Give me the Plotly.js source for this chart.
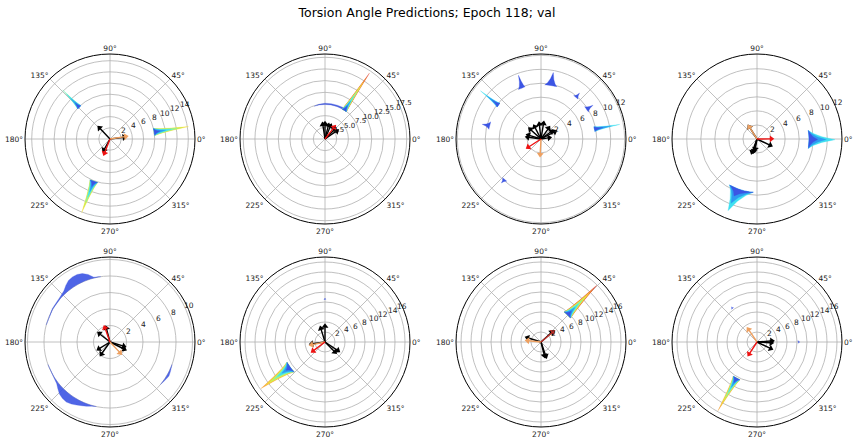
<!DOCTYPE html>
<html><head><meta charset="utf-8">
<script src="https://cdn.plot.ly/plotly-3.0.1.min.js"></script>
<style>html,body{margin:0;padding:0;background:#fff}#chart{width:854px;height:438px}</style>
</head><body><div id="chart"></div>
<script>
// ---------------- data ----------------
const titleText = 'Torsion Angle Predictions; Epoch 118; val';
const angleTicks = [0, 45, 90, 135, 180, 225, 270, 315];
const angleTickLabels = ['0°', '45°', '90°', '135°', '180°', '225°', '270°', '315°'];

const rMax = [15.2, 18.2, 12.2, 12.1, 10.3, 17, 17, 17];
const rTicks1 = [2, 4, 6, 8, 10, 12, 14];
const rTicks2 = [2.5, 5.0, 7.5, 10.0, 12.5, 15.0, 17.5];
const rTickLabels2 = ['2.5', '5.0', '7.5', '10.0', '12.5', '15.0', '17.5'];
const rTicks3 = [2, 4, 6, 8, 10, 12];
const rTicks4 = [2, 4, 6, 8, 10, 12];
const rTicks5 = [2, 4, 6, 8, 10];
const rTicks6 = [2, 4, 6, 8, 10, 12, 14, 16];
const rTicks7 = [2, 4, 6, 8, 10, 12, 14, 16];
const rTicks8 = [2, 4, 6, 8, 10, 12, 14, 16];

// peaks: [angle, base r, tip r, spread toward smaller angle, spread toward larger angle, colour level]
const peaks1 = [[9, 8.0, 14.2, 4.5, 4.5, 5], [134, 7.9, 12.2, 3, 3, 3], [249, 8.1, 14.1, 5, 5, 5]];
const peaks2 = [[56, 7.4, 17.0, 4, 4, 7]];
const peaks3 = [[10.5, 7.8, 11.5, 2.5, 2.5, 2], [141.5, 7.8, 11.1, 2.5, 2.5, 2], [79.5, 7.8, 9.7, 6.5, 6.5, 0],
                [109.5, 7.8, 9.7, 2.5, 5, 0], [50, 7.8, 8.6, 3, 3, 0], [33, 7.8, 8.9, 3.5, 3.5, 0],
                [166, 7.6, 8.7, 5, 3.5, 0], [228, 7.8, 8.5, 3, 3, 0]];
const peaks4 = [[359.5, 7.4, 11.1, 10, 10, 2], [248, 7.6, 11.0, 9, 18, 2]];
const peaks5 = [];
const peaks6 = [[216, 8.6, 15.8, 8, 8, 6], [90, 8.5, 8.8, 1.5, 1.5, 0]];
const peaks7 = [[45.5, 7.6, 15.9, 6.5, 6.5, 7]];
const peaks8 = [[240.4, 8.3, 15.8, 5, 5, 6], [126, 8.3, 8.7, 2, 2, 0], [0, 8.2, 8.6, 2, 2, 0]];

// broad low distributions: angles, height above base, base
const band2Theta = [58, 62, 70, 80, 90, 100, 108];
const band2H = [0.4, 0.35, 0.3, 0.28, 0.25, 0.15, 0];
const band2Base = 7.4;
const blob5aTheta = [98, 104, 108, 112, 116, 120, 124, 128, 132, 138, 150, 165];
const blob5aH = [0, 0.1, 0.6, 0.95, 1.1, 1.1, 1.0, 0.7, 0.35, 0.15, 0.08, 0];
const blob5bTheta = [200, 212, 218, 222, 226, 230, 234, 238, 242, 246, 250, 254, 258];
const blob5bH = [0, 0.05, 0.2, 0.5, 0.8, 0.95, 1.0, 0.85, 0.65, 0.45, 0.3, 0.1, 0];
const blob5cTheta = [320, 326, 330, 334, 340];
const blob5cH = [0, 0.15, 0.25, 0.15, 0];
const blob5Base = 8.0;

// arrows: [angle, length]
const arrowsBlack1 = [[133.5, 3.2], [241, 2.7], [7, 3.0]];
const arrowsOrange1 = [[9, 3.3]];
const arrowsRed1 = [[248.6, 3.2]];
const arrowsBlack2 = [[98.7, 3.7], [90, 3.8], [76, 3.55], [67, 3.6], [34.6, 3.6], [45, 3.4]];
const arrowsOrange2 = [];
const arrowsRed2 = [[52, 3.77]];
const arrowsBlack3 = [[162.7, 2.25], [138, 2.45], [117.6, 2.35], [96.6, 2.5], [80.7, 2.65], [55, 2.25], [36, 2.2], [9, 1.55], [172, 2.3], [28, 2.6]];
const arrowsOrange3 = [[266.9, 2.6]];
const arrowsRed3 = [[212.8, 2.55]];
const arrowsBlack4 = [[122.5, 2.4], [334.4, 2.45], [249.4, 2.35], [255, 2.15], [259.6, 1.8]];
const arrowsOrange4 = [[122.5, 2.4]];
const arrowsRed4 = [[0.5, 2.4]];
const arrowsBlack5 = [[141.7, 1.95], [212, 1.9], [234.5, 2.1], [343, 2.05], [333.4, 2.25], [105, 2.05]];
const arrowsOrange5 = [[313, 2.1]];
const arrowsRed5 = [[109.8, 2.15]];
const arrowsBlack6 = [[107, 3.35], [90, 3.65], [326.3, 3.6], [315, 3.3], [188, 3.2]];
const arrowsOrange6 = [[191.8, 3.25]];
const arrowsRed6 = [[217, 3.5]];
const arrowsBlack7 = [[42, 3.4], [162.6, 3.35], [288.8, 3.5], [284, 3.3]];
const arrowsOrange7 = [[174, 3.2]];
const arrowsRed7 = [[39.8, 3.65]];
const arrowsBlack8 = [[4.4, 3.5], [356.6, 3.35], [334.4, 3.55]];
const arrowsOrange8 = [[124.3, 3.55]];
const arrowsRed8 = [[236.9, 3.4]];

// ---------------- styling / construction ----------------
const W = 854, H = 438, R = 85;
const colCenters = [110, 325, 541, 757];
const rowCenters = [139, 342];
const palette = ['#3c55e4', '#2e9bf2', '#3fe0f0', '#7df0b8', '#c4f25a', '#f3e03c', '#f5a23a', '#e0402a'];
const shapeX = [-1, -0.6, -0.25, 0, 0.25, 0.6, 1];
const shapeY = [0, 0.18, 0.5, 1, 0.5, 0.18, 0];
const blackColor = '#000000';
const orangeColors = ['#eea060', '#eea060', '#eea060', '#eda162', '#eea060', '#eea060', '#eea060', '#eea060'];
const redColors = ['#ee1111', '#ee1111', '#ee1111', '#ec1313', '#ee1111', '#ee1111', '#c0302a', '#ee1111'];
const rLabelAngle = 22.5, rLabelDx = 3, rLabelDy = 4.5;
const rLabelSizes = [7.5, 7, 7.5, 7.5, 7.5, 7.5, 7.5, 7.5];

const ticksAll = [rTicks1, rTicks2, rTicks3, rTicks4, rTicks5, rTicks6, rTicks7, rTicks8];
const peaksAll = [peaks1, peaks2, peaks3, peaks4, peaks5, peaks6, peaks7, peaks8];
const arrowsAll = [
  [arrowsBlack1, arrowsOrange1, arrowsRed1], [arrowsBlack2, arrowsOrange2, arrowsRed2],
  [arrowsBlack3, arrowsOrange3, arrowsRed3], [arrowsBlack4, arrowsOrange4, arrowsRed4],
  [arrowsBlack5, arrowsOrange5, arrowsRed5], [arrowsBlack6, arrowsOrange6, arrowsRed6],
  [arrowsBlack7, arrowsOrange7, arrowsRed7], [arrowsBlack8, arrowsOrange8, arrowsRed8]];
const blobsAll = [[], [[band2Theta, band2H, band2Base]], [], [],
  [[blob5aTheta, blob5aH, blob5Base], [blob5bTheta, blob5bH, blob5Base], [blob5cTheta, blob5cH, blob5Base]], [], [], []];

const traces = [];
const annotations = [];
const layout = {
  width: W, height: H, margin: {l: 0, r: 0, t: 0, b: 0},
  paper_bgcolor: 'white', showlegend: false,
  font: {family: 'DejaVu Sans, sans-serif', color: '#222'},
  title: {text: titleText, x: 0.5, xanchor: 'center', xref: 'paper', y: 1 - 13 / H, yref: 'container', yanchor: 'middle',
          font: {size: 12.5, family: 'DejaVu Sans, sans-serif', color: '#000'}},
  annotations: annotations
};

function sub(i) { return 'polar' + (i ? (i + 1) : ''); }

function fillTrace(i, r, t, color, opacity) {
  traces.push({type: 'scatterpolar', subplot: sub(i), mode: 'lines', r: r, theta: t, fill: 'toself',
    fillcolor: color, opacity: opacity || 1, line: {color: color, width: 0.3}, hoverinfo: 'skip'});
}

function peakPoly(p, f) {
  const [th, b, tip, wl, wr] = p;
  const h = (tip - b) * f;
  const r = [], t = [];
  for (let j = 0; j < shapeX.length; j++) {
    const x = shapeX[j];
    t.push(th + (x < 0 ? x * wl : x * wr));
    r.push(b + h * shapeY[j]);
  }
  const n = Math.max(2, Math.ceil((wl + wr) / 2));
  for (let j = n - 1; j >= 1; j--) { t.push(th - wl + (wl + wr) * j / n); r.push(b); }
  return {r, t};
}

function addArrows(i, list, color) {
  if (!list.length) return;
  const s = R / rMax[i];
  const lr = [], lt = [], mr = [], mt = [], ma = [];
  list.forEach(([a, L], j) => {
    if (j > 0) { lr.push(null); lt.push(null); }
    lr.push(0, L - 3.5 / s); lt.push(a, a);
    mr.push(L - 2.6 / s); mt.push(a); ma.push(90 - a);
  });
  traces.push({type: 'scatterpolar', subplot: sub(i), mode: 'lines', r: lr, theta: lt,
    line: {color: color, width: 1.4}, hoverinfo: 'skip', connectgaps: false});
  traces.push({type: 'scatterpolar', subplot: sub(i), mode: 'markers', r: mr, theta: mt,
    marker: {symbol: 'triangle-up', size: 6, color: color, angle: ma, line: {width: 0}}, hoverinfo: 'skip'});
}

// radial tick labels, placed like matplotlib's (at 22.5 deg, nudged up-right)
function addRadialLabels(i, cx, cy, tv, labels) {
  const s = R / rMax[i];
  const a = rLabelAngle * Math.PI / 180;
  tv.forEach((v, j) => {
    const px = cx + s * v * Math.cos(a) + rLabelDx;
    const py = cy - s * v * Math.sin(a) - rLabelDy;
    annotations.push({x: px / W, y: 1 - py / H, xref: 'paper', yref: 'paper', text: labels[j],
      showarrow: false, xanchor: 'center', yanchor: 'middle',
      font: {size: rLabelSizes[i], color: '#222', family: 'DejaVu Sans, sans-serif'}});
  });
}

for (let i = 0; i < 8; i++) {
  const col = i % 4, row = Math.floor(i / 4);
  const cx = colCenters[col], cy = rowCenters[row];
  const tv = ticksAll[i];
  const labels = (i === 1 ? rTickLabels2 : tv.map(String));
  layout[sub(i)] = {
    domain: {x: [(cx - R) / W, (cx + R) / W], y: [1 - (cy + R) / H, 1 - (cy - R) / H]},
    bgcolor: 'white',
    radialaxis: {range: [0, rMax[i]], tickvals: tv, showticklabels: false,
      angle: 22.5, showline: false, ticks: '', gridcolor: '#b0b0b0', gridwidth: 0.8},
    angularaxis: {tickvals: angleTicks, ticktext: angleTickLabels, ticks: '', showline: true,
      linecolor: '#000', linewidth: 1, gridcolor: '#b0b0b0', gridwidth: 0.8,
      tickfont: {size: 7.5, color: '#222'}}
  };
  blobsAll[i].forEach(([th, hh, base]) => {
    const r = [], t = [];
    for (let j = 0; j < th.length; j++) { t.push(th[j]); r.push(base + hh[j]); }
    for (let j = th.length - 1; j >= 0; j--) { t.push(th[j]); r.push(base); }
    fillTrace(i, r, t, palette[0], 0.9);
  });
  peaksAll[i].forEach(p => {
    const L = p[5];
    for (let k = L; k >= 0; k--) {
      const poly = peakPoly(p, (k + 1) / (L + 1));
      fillTrace(i, poly.r, poly.t, palette[k], 1);
    }
  });
  addArrows(i, arrowsAll[i][0], blackColor);
  addArrows(i, arrowsAll[i][1], orangeColors[i]);
  addArrows(i, arrowsAll[i][2], redColors[i]);
  addRadialLabels(i, cx, cy, tv, labels);
}

Plotly.newPlot('chart', traces, layout, {displayModeBar: false, staticPlot: true});
</script>
</body></html>
